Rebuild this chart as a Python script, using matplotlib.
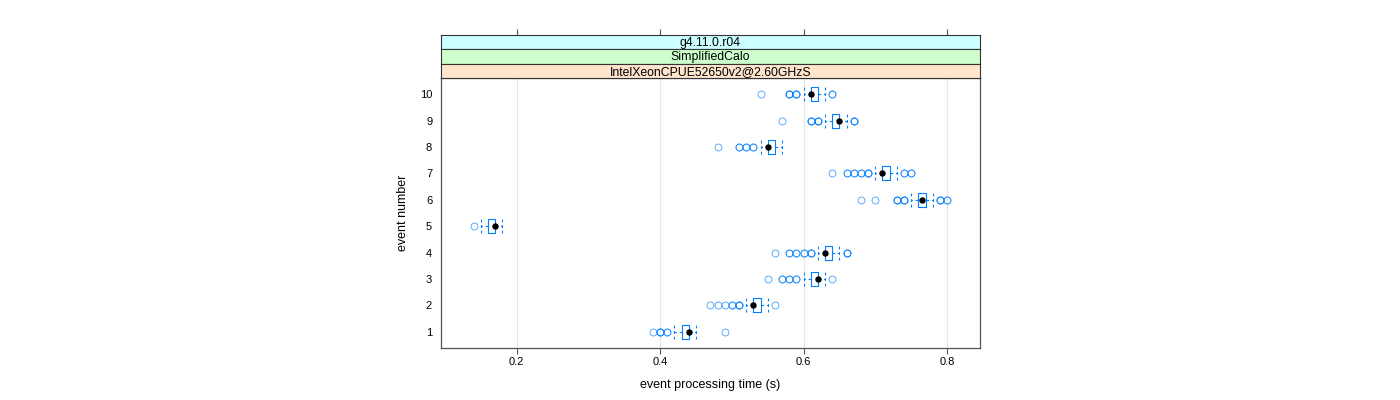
import matplotlib
matplotlib.use("Agg")
import matplotlib.pyplot as plt

plt.rcParams['font.family'] = ['Liberation Sans', 'DejaVu Sans']

# ---- data (seconds) ----
events = [1, 2, 3, 4, 5, 6, 7, 8, 9, 10]
q1 = [0.43, 0.53, 0.61, 0.63, 0.16, 0.76, 0.71, 0.55, 0.64, 0.61]
medians = [0.44, 0.53, 0.62, 0.63, 0.17, 0.765, 0.71, 0.55, 0.65, 0.61]
q3 = [0.44, 0.54, 0.62, 0.64, 0.17, 0.77, 0.72, 0.56, 0.65, 0.62]
whisk_lo = [0.42, 0.52, 0.60, 0.62, 0.15, 0.75, 0.70, 0.54, 0.63, 0.60]
whisk_hi = [0.45, 0.55, 0.63, 0.65, 0.18, 0.78, 0.73, 0.57, 0.66, 0.63]
outliers = [
    [0.39, 0.40, 0.40, 0.40, 0.41, 0.41, 0.49],
    [0.47, 0.48, 0.49, 0.50, 0.50, 0.51, 0.51, 0.51, 0.56],
    [0.55, 0.57, 0.57, 0.58, 0.58, 0.59, 0.59, 0.64],
    [0.56, 0.58, 0.58, 0.59, 0.59, 0.60, 0.60, 0.61, 0.61, 0.61, 0.66, 0.66, 0.66],
    [0.14],
    [0.68, 0.70, 0.73, 0.73, 0.73, 0.74, 0.74, 0.74, 0.79, 0.79, 0.79, 0.80, 0.80],
    [0.64, 0.66, 0.66, 0.67, 0.67, 0.68, 0.68, 0.69, 0.69, 0.69, 0.74, 0.74, 0.75, 0.75],
    [0.48, 0.51, 0.51, 0.52, 0.52, 0.53, 0.53],
    [0.57, 0.61, 0.61, 0.61, 0.62, 0.62, 0.62, 0.67, 0.67, 0.67],
    [0.54, 0.58, 0.58, 0.58, 0.59, 0.59, 0.59, 0.64, 0.64],
]
x_ticks = [0.2, 0.4, 0.6, 0.8]
strip_labels = ["g4.11.0.r04", "SimplifiedCalo", "IntelXeonCPUE52650v2@2.60GHzS"]
strip_colors = ["#ccffff", "#ccffcc", "#ffe5cc"]
xlabel = "event processing time (s)"
ylabel = "event number"

BLUE = "#0080ff"
W, H = 1400, 400
fig = plt.figure(figsize=(W / 100, H / 100), dpi=100)

px_l, px_r, px_t, px_b = 440.5, 980.3, 78.3, 347.7
ax = fig.add_axes([px_l / W, 1 - px_b / H, (px_r - px_l) / W, (px_b - px_t) / H])

stats = []
for i in range(len(events)):
    stats.append(dict(med=medians[i], q1=q1[i], q3=q3[i], whislo=whisk_lo[i],
                      whishi=whisk_hi[i], fliers=outliers[i], label=str(events[i])))

ax.bxp(stats, positions=events, widths=0.53, capwidths=0.53,
       orientation='horizontal', showfliers=True,
       boxprops=dict(color=BLUE, linewidth=0.8),
       whiskerprops=dict(color=BLUE, linewidth=0.8, linestyle=(0, (2.5, 2.5))),
       capprops=dict(color=BLUE, linewidth=0.8, linestyle=(0, (2.5, 2.5))),
       medianprops=dict(linewidth=0),
       flierprops=dict(marker='o', markersize=5.0, markerfacecolor='none',
                       markeredgecolor=BLUE, markeredgewidth=0.6, alpha=0.75))
ax.scatter(medians, events, s=13, color='black', zorder=5)

ax.set_xlim(0.0938, 0.8464)
ax.set_ylim(0.4, 10.6)
ax.set_xticks(x_ticks)
ax.set_xticklabels([f"{t:.1f}" for t in x_ticks])
ax.set_yticks(events)
ax.set_yticklabels([str(e) for e in events])
for t in x_ticks:
    ax.axvline(t, color='#e6e6e6', linewidth=0.8, zorder=0)
ax.tick_params(axis='x', direction='out', length=4, width=0.8, color='#555555',
               labelsize=8, pad=3)
ax.tick_params(axis='y', length=0, labelsize=8, pad=6)
for s in ax.spines.values():
    s.set_color('#555555')
    s.set_linewidth(0.9)
ax.set_xlabel(xlabel, fontsize=9, labelpad=8)
ax.set_ylabel(ylabel, fontsize=9, labelpad=8)

# strips
strip_edges = [34.7, 49.3, 63.7, 78.3]
for k, (lab, col) in enumerate(zip(strip_labels, strip_colors)):
    top, bot = strip_edges[k], strip_edges[k + 1]
    sax = fig.add_axes([px_l / W, 1 - bot / H, (px_r - px_l) / W, (bot - top) / H])
    sax.set_facecolor(col)
    sax.set_xlim(ax.get_xlim())
    sax.set_ylim(0, 1)
    sax.set_yticks([])
    if k == 0:
        sax.set_xticks(x_ticks)
        sax.tick_params(axis='x', top=True, bottom=False, labeltop=False,
                        labelbottom=False, direction='out', length=4, width=0.8,
                        color='#555555')
    else:
        sax.set_xticks([])
    for s in sax.spines.values():
        s.set_color('#333333')
        s.set_linewidth(0.8)
    sax.text(0.5, 0.45, lab, transform=sax.transAxes, ha='center', va='center',
             fontsize=8.8)

fig.savefig("out.png", dpi=100)
